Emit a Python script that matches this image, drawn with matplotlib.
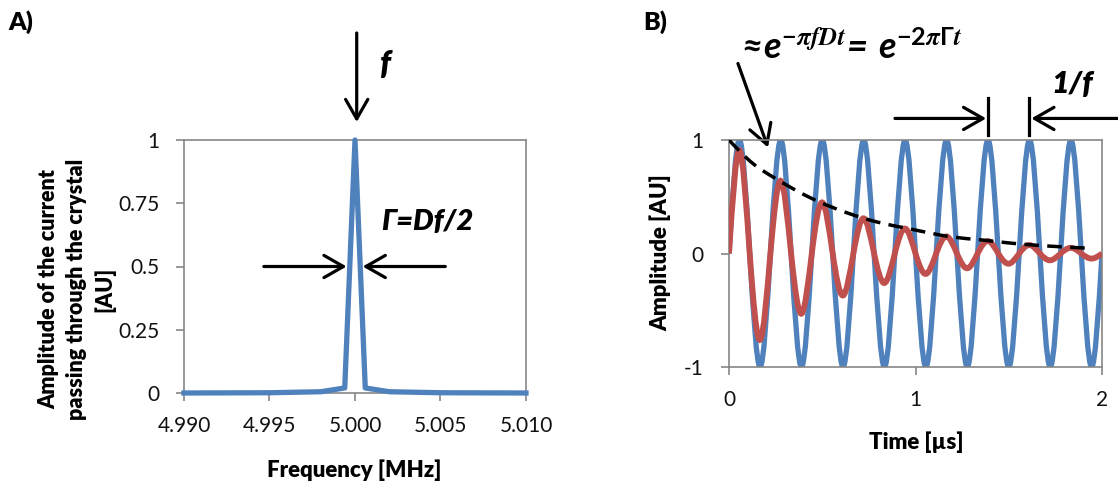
#!/usr/bin/env python3

import numpy as np
import matplotlib
matplotlib.use("Agg")
import matplotlib.pyplot as plt
from matplotlib.path import Path
from matplotlib.patches import PathPatch, FancyArrowPatch

plt.rcParams['font.family'] = ['Lato', 'DejaVu Sans']
plt.rcParams['mathtext.fontset'] = 'custom'
plt.rcParams['mathtext.rm'] = 'Lato:bold'
plt.rcParams['mathtext.it'] = 'STIXGeneral:italic:bold'
plt.rcParams['mathtext.bf'] = 'Lato:italic:bold'

# Panel A: resonance peak of the crystal
freq_mhz = [4.990, 4.995, 4.998, 4.9994, 5.000, 5.0006, 5.002, 5.005, 5.010]
current_amp = [0.0, 0.001, 0.005, 0.02, 1.0, 0.02, 0.005, 0.001, 0.0]
freq_ticks = [4.990, 4.995, 5.000, 5.005, 5.010]
freq_labels = ['4.990', '4.995', '5.000', '5.005', '5.010']
amp_ticks = [0, 0.25, 0.5, 0.75, 1]
amp_labels = ['0', '0.25', '0.5', '0.75', '1']

# Panel B: driven vs. free ringing (sampled at extrema and zero crossings)
time_us = [0.000, 0.056, 0.111, 0.167, 0.222, 0.278, 0.333, 0.389, 0.444,
           0.500, 0.556, 0.611, 0.667, 0.722, 0.778, 0.833, 0.889, 0.944,
           1.000, 1.056, 1.111, 1.167, 1.222, 1.278, 1.333, 1.389, 1.444,
           1.500, 1.556, 1.611, 1.667, 1.722, 1.778, 1.833, 1.889, 1.944,
           2.000]
driven = [0, 1, 0, -1, 0, 1, 0, -1, 0,
          1, 0, -1, 0, 1, 0, -1, 0, 1,
          0, -1, 0, 1, 0, -1, 0, 1, 0,
          -1, 0, 1, 0, -1, 0, 1, 0, -1,
          0]
ringing = [0, 0.91, 0, -0.76, 0, 0.64, 0, -0.53, 0,
           0.45, 0, -0.37, 0, 0.31, 0, -0.26, 0, 0.22,
           0, -0.18, 0, 0.15, 0, -0.13, 0, 0.11, 0,
           -0.09, 0, 0.075, 0, -0.06, 0, 0.05, 0, -0.045,
           0]
env_t = [0.0, 0.13, 0.24, 0.36, 0.49, 0.63, 0.80, 0.96, 1.20, 1.35, 1.49, 1.77, 1.95]
env_y = [1.0, 0.79, 0.67, 0.555, 0.45, 0.36, 0.275, 0.22, 0.145, 0.12, 0.095, 0.06, 0.045]
time_ticks = [0, 1, 2]
b_amp_ticks = [-1, 0, 1]
b_amp_labels = ['-1', '0', '1']

BLUE = '#4F81BD'
RED = '#C0504D'
GRAY = '#868686'
W, H = 1118, 484


def px(x, y):
    # pixel position (from top-left) -> figure fraction
    return x / W, 1 - y / H


def smooth_path(x, y):
    # smoothed line through the points, like a spreadsheet "smoothed line"
    x = np.asarray(x, float)
    y = np.asarray(y, float)
    n = len(x)
    h = np.diff(x)
    d = np.diff(y) / h
    A = np.zeros((n, n))
    b = np.zeros(n)
    A[0, 0], A[0, 1], b[0] = 2, 1, 3 * d[0]
    A[-1, -2], A[-1, -1], b[-1] = 1, 2, 3 * d[-1]
    for i in range(1, n - 1):
        A[i, i - 1] = h[i]
        A[i, i] = 2 * (h[i - 1] + h[i])
        A[i, i + 1] = h[i - 1]
        b[i] = 3 * (h[i] * d[i - 1] + h[i - 1] * d[i])
    m = np.linalg.solve(A, b)
    verts = [(x[0], y[0])]
    codes = [Path.MOVETO]
    for i in range(n - 1):
        verts += [(x[i] + h[i] / 3, y[i] + m[i] * h[i] / 3),
                  (x[i + 1] - h[i] / 3, y[i + 1] - m[i + 1] * h[i] / 3),
                  (x[i + 1], y[i + 1])]
        codes += [Path.CURVE4] * 3
    return Path(verts, codes)


def style_axes(ax):
    for s in ax.spines.values():
        s.set_color(GRAY)
        s.set_linewidth(1.2)
    ax.tick_params(direction='out', length=6, width=1.2, color=GRAY,
                   labelsize=15, labelcolor='#111111')
    ax.tick_params(axis='y', pad=11.5)
    ax.tick_params(axis='x', pad=10.5)


def arrow(ax, start, end, **kw):
    ax.add_patch(FancyArrowPatch(start, end, transform=ax.transData,
                                 arrowstyle='->,head_length=0.7,head_width=0.4',
                                 mutation_scale=20, lw=2.3, color='black',
                                 clip_on=False, shrinkA=0, shrinkB=0, **kw))


LABEL = dict(family='Lato', fontsize=16, fontweight='heavy')
NOTE = dict(family='Lato', fontstyle='italic', fontweight='heavy')

fig = plt.figure(figsize=(W / 100, H / 100), dpi=100)

# ---------------- Panel A ----------------
axa = fig.add_axes([184 / W, (H - 393) / H, 342 / W, 253 / H])
axa.plot(freq_mhz, current_amp, color=BLUE, lw=3.8, clip_on=False,
         solid_joinstyle='round', zorder=3)
axa.set_xlim(4.990, 5.010)
axa.set_ylim(0, 1)
axa.set_xticks(freq_ticks, freq_labels)
axa.set_yticks(amp_ticks, amp_labels)
style_axes(axa)

arrow(axa, (5.0001, 1.423), (5.0001, 1.071))
arrow(axa, (4.99467, 0.5), (4.99951, 0.5))
arrow(axa, (5.00528, 0.5), (5.00045, 0.5))
axa.text(5.00175, 1.30, 'f', fontsize=23, ha='center', va='center', **NOTE)
axa.text(5.00155, 0.675, 'Γ=Df/2', fontsize=21, ha='left', va='center', **NOTE)

fig.text(*px(354, 470), 'Frequency [MHz]', ha='center', va='center', **LABEL)
fig.text(*px(77, 289), 'Amplitude of the current\npassing through the crystal\n[AU]',
         rotation=90, ha='center', va='center', multialignment='center',
         linespacing=1.4, family='Lato', fontsize=15.5, fontweight='heavy')
fig.text(*px(21, 22), 'A)', ha='center', va='center', family='Lato',
         fontsize=18, fontweight='heavy')

# ---------------- Panel B ----------------
axb = fig.add_axes([729 / W, (H - 367) / H, 373 / W, 227 / H])
axb.add_patch(PathPatch(smooth_path(time_us, driven), fill=False,
                        edgecolor=BLUE, lw=3.8, zorder=2))
axb.add_patch(PathPatch(smooth_path(time_us, ringing), fill=False,
                        edgecolor=RED, lw=4.2, zorder=3))
axb.add_patch(PathPatch(smooth_path(env_t, env_y), fill=False,
                        edgecolor='black', lw=2.5, linestyle=(0, (4.2, 2.4)),
                        zorder=4))
axb.set_xlim(0, 2)
axb.set_ylim(-1, 1)
axb.set_xticks(time_ticks)
axb.set_yticks(b_amp_ticks, b_amp_labels)
style_axes(axb)
axb.tick_params(axis='y', pad=12.5)

arrow(axb, (0.048, 1.674), (0.209, 0.934))
arrow(axb, (0.89, 1.19), (1.379, 1.19))
arrow(axb, (2.09, 1.19), (1.621, 1.19))
for t_bar in (1.389, 1.611):
    axb.plot([t_bar, t_bar], [1.04, 1.374], color='black', lw=2.3, clip_on=False)
axb.text(1.839, 1.49, '1/f', fontsize=22, ha='center', va='center', **NOTE)
axb.text(0.040, 1.718,
         r'$\mathbf{\approx}\!\mathbf{e}^{-\pi fDt}\!\mathbf{=}\,\mathbf{e}^{-2\pi\Gamma t}$',
         fontsize=26, ha='left', va='baseline')

fig.text(*px(916, 442), 'Time [µs]', ha='center', va='center', **LABEL)
fig.text(*px(660, 253), 'Amplitude [AU]', rotation=90, ha='center', va='center',
         **LABEL)
fig.text(*px(655, 22), 'B)', ha='center', va='center', family='Lato',
         fontsize=18, fontweight='heavy')

fig.savefig('out.png', dpi=100)
